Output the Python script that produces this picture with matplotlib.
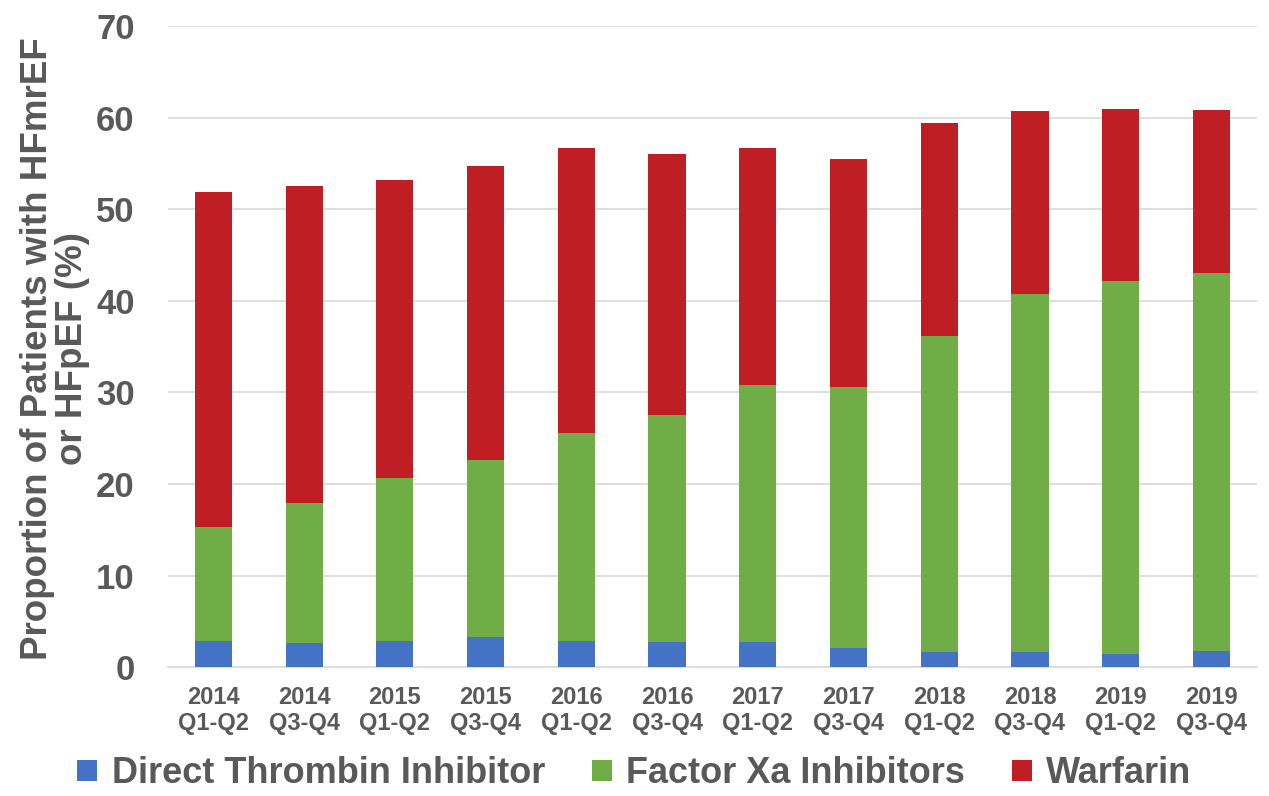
import numpy as np
import matplotlib
matplotlib.use("Agg")
import matplotlib.pyplot as plt

plt.rcParams['font.family'] = ['Liberation Sans', 'DejaVu Sans']

periods = ["2014\nQ1-Q2", "2014\nQ3-Q4", "2015\nQ1-Q2", "2015\nQ3-Q4",
           "2016\nQ1-Q2", "2016\nQ3-Q4", "2017\nQ1-Q2", "2017\nQ3-Q4",
           "2018\nQ1-Q2", "2018\nQ3-Q4", "2019\nQ1-Q2", "2019\nQ3-Q4"]

# cumulative tops
total_top = [51.9, 52.5, 53.2, 54.7, 56.7, 56.0, 56.7, 55.5, 59.4, 60.7, 61.0, 60.9]
factor_xa_top = [15.3, 17.9, 20.6, 22.6, 25.6, 27.5, 30.85, 30.6, 36.2, 40.8, 42.2, 43.0]
direct_thrombin = [2.9, 2.65, 2.8, 3.25, 2.85, 2.75, 2.75, 2.05, 1.62, 1.62, 1.38, 1.74]

factor_xa = [f - d for f, d in zip(factor_xa_top, direct_thrombin)]
warfarin = [t - f for t, f in zip(total_top, factor_xa_top)]

BLUE = "#4472C4"
GREEN = "#70AD47"
RED = "#BE1E24"
TEXT = "#595959"
GRID = "#D9D9D9"

fig = plt.figure(figsize=(12.69, 7.96), dpi=100)
ax = fig.add_axes([0.1324, 0.162, 0.858, 0.805])

x = np.arange(len(periods))
w = 0.41
ax.bar(x, direct_thrombin, w, color=BLUE, label="Direct Thrombin Inhibitor", zorder=3)
ax.bar(x, factor_xa, w, bottom=direct_thrombin, color=GREEN,
       label="Factor Xa Inhibitors", zorder=3)
ax.bar(x, warfarin, w, bottom=factor_xa_top, color=RED, label="Warfarin", zorder=3)

ax.set_xlim(-0.5, len(periods) - 0.5)
ax.set_ylim(0, 70)
ax.set_yticks(range(0, 71, 10))
ax.set_xticks(x)
ax.set_xticklabels(periods, fontsize=17, fontweight='bold', color=TEXT,
                   linespacing=1.15)
for lbl in ax.get_yticklabels():
    lbl.set_fontsize(25)
    lbl.set_fontweight('bold')
    lbl.set_color(TEXT)

ax.tick_params(axis='y', length=0, pad=24)
ax.tick_params(axis='x', length=0, pad=14)

ax.grid(axis='y', color=GRID, linewidth=1.2, zorder=0)
for side in ['top', 'right', 'left']:
    ax.spines[side].set_visible(False)
ax.spines['bottom'].set_color(GRID)
ax.spines['bottom'].set_linewidth(1.2)

ax.set_ylabel("Proportion of Patients with HFmrEF\nor HFpEF (%)",
              fontsize=26.5, fontweight='bold', color=TEXT, linespacing=1.0)
ax.yaxis.set_label_coords(-0.072, 0.497)

fig.legend(loc='lower center', bbox_to_anchor=(0.5, -0.035), ncol=3,
           frameon=False, handlelength=0.55, handleheight=0.55,
           handletextpad=0.4, columnspacing=1.3,
           prop={'size': 26, 'weight': 'bold'}, labelcolor=TEXT)

fig.savefig("out.png", dpi=100)
